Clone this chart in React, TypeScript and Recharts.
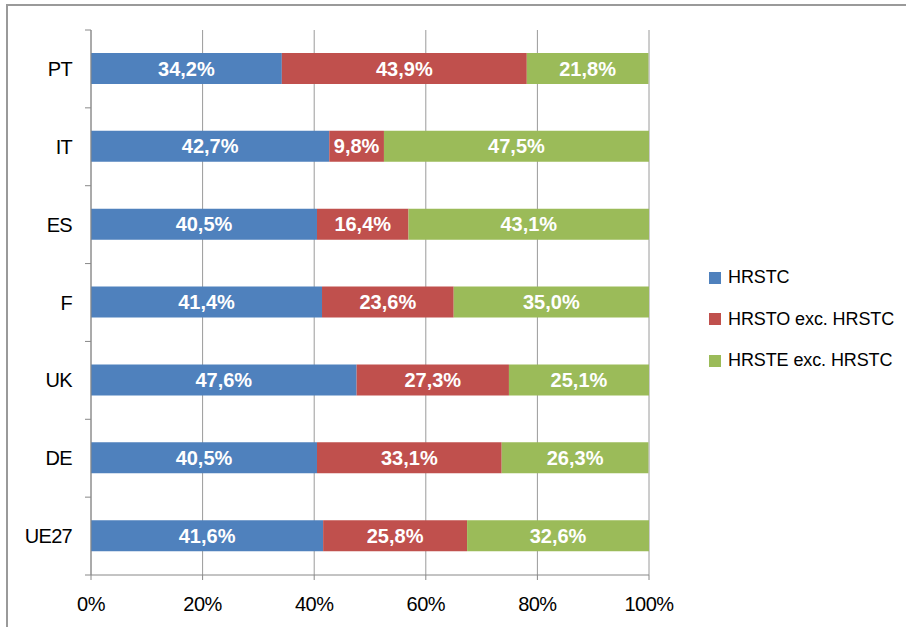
import React from "react";
import { BarChart, Bar, XAxis, YAxis, CartesianGrid, LabelList } from "recharts";

const categories = ["PT", "IT", "ES", "F", "UK", "DE", "UE27"];
const hrstc = [34.2, 42.7, 40.5, 41.4, 47.6, 40.5, 41.6];
const hrstoExc = [43.9, 9.8, 16.4, 23.6, 27.3, 33.1, 25.8];
const hrsteExc = [21.8, 47.5, 43.1, 35.0, 25.1, 26.3, 32.6];
const seriesNames = ["HRSTC", "HRSTO exc. HRSTC", "HRSTE exc. HRSTC"];
const xTicks = [0, 20, 40, 60, 80, 100];

const COLORS = ["#4F81BD", "#C0504D", "#9BBB59"];
const W = 906;
const H = 627;
const X_AXIS_H = 30;
const M = { top: 30, right: 257, bottom: 52 - X_AXIS_H, left: 0 };
const Y_AXIS_W = 91;
const PLOT_H = H - M.top - M.bottom - X_AXIS_H;
const BAND = PLOT_H / categories.length;
const FONT = "'Liberation Sans', Arial, sans-serif";

const data = categories.map((c, i) => ({
  name: c,
  a: hrstc[i],
  b: hrstoExc[i],
  c: hrsteExc[i],
}));

const fmt = (v: any) => `${Number(v).toFixed(1).replace(".", ",")}%`;

const YTick = (props: any) => {
  const { y, payload, index } = props;
  const axisX = Y_AXIS_W;
  return (
    <g>
      <text
        x={72}
        y={y}
        textAnchor="end"
        dominantBaseline="central"
        fontFamily={FONT}
        fontSize={20}
        letterSpacing={-0.7}
        fill="#000"
      >
        {payload.value}
      </text>
      <line x1={axisX - 6} x2={axisX} y1={y - BAND / 2} y2={y - BAND / 2} stroke="#888" strokeWidth={1} />
      {index === categories.length - 1 ? (
        <line x1={axisX - 6} x2={axisX} y1={y + BAND / 2} y2={y + BAND / 2} stroke="#888" strokeWidth={1} />
      ) : null}
    </g>
  );
};

const XTick = (props: any) => {
  const { x, y, payload } = props;
  return (
    <text
      x={x}
      y={y + 29}
      textAnchor="middle"
      fontFamily={FONT}
      fontSize={20}
      letterSpacing={-0.5}
      fill="#000"
    >
      {`${payload.value}%`}
    </text>
  );
};

const Legend = () => (
  <div
    style={{
      position: "absolute",
      left: 709,
      top: 257,
      fontFamily: FONT,
      fontSize: 18,
      letterSpacing: -0.1,
      color: "#000",
    }}
  >
    {seriesNames.map((n, i) => (
      <div key={n} style={{ display: "flex", alignItems: "center", height: 41.5 }}>
        <div style={{ width: 12, height: 12, background: COLORS[i], marginRight: 7 }} />
        <span>{n}</span>
      </div>
    ))}
  </div>
);

export default function App() {
  return (
    <div
      style={{
        position: "absolute",
        left: 0,
        top: 0,
        width: W,
        height: H,
        overflow: "hidden",
        background: "#fff",
      }}
    >
      <div
        style={{
          position: "absolute",
          left: 6,
          top: 4,
          width: W + 20,
          height: H + 20,
          border: "2px solid #9a9a9a",
          boxSizing: "border-box",
        }}
      />
      <div style={{ position: "absolute", left: 0, top: 0 }}>
        <BarChart width={W} height={H} data={data} layout="vertical" margin={M} barSize={31}>
          <CartesianGrid horizontal={false} vertical={true} stroke="#9a9a9a" strokeWidth={1} />
          <XAxis
            type="number"
            domain={[0, 100]}
            ticks={xTicks}
            interval={0}
            height={X_AXIS_H}
            allowDataOverflow
            axisLine={{ stroke: "#888" }}
            tickLine={{ stroke: "#888" }}
            tickSize={5}
            tick={<XTick />}
          />
          <YAxis
            type="category"
            dataKey="name"
            width={Y_AXIS_W}
            axisLine={{ stroke: "#888" }}
            tickLine={false}
            tick={<YTick />}
            interval={0}
          />
          <Bar dataKey="a" stackId="s" fill={COLORS[0]} isAnimationActive={false}>
            <LabelList dataKey="a" position="center" formatter={fmt} fill="#fff" fontSize={20} fontWeight="bold" fontFamily={FONT} />
          </Bar>
          <Bar dataKey="b" stackId="s" fill={COLORS[1]} isAnimationActive={false}>
            <LabelList dataKey="b" position="center" formatter={fmt} fill="#fff" fontSize={20} fontWeight="bold" fontFamily={FONT} />
          </Bar>
          <Bar dataKey="c" stackId="s" fill={COLORS[2]} isAnimationActive={false}>
            <LabelList dataKey="c" position="center" formatter={fmt} fill="#fff" fontSize={20} fontWeight="bold" fontFamily={FONT} />
          </Bar>
        </BarChart>
      </div>
      <Legend />
    </div>
  );
}
